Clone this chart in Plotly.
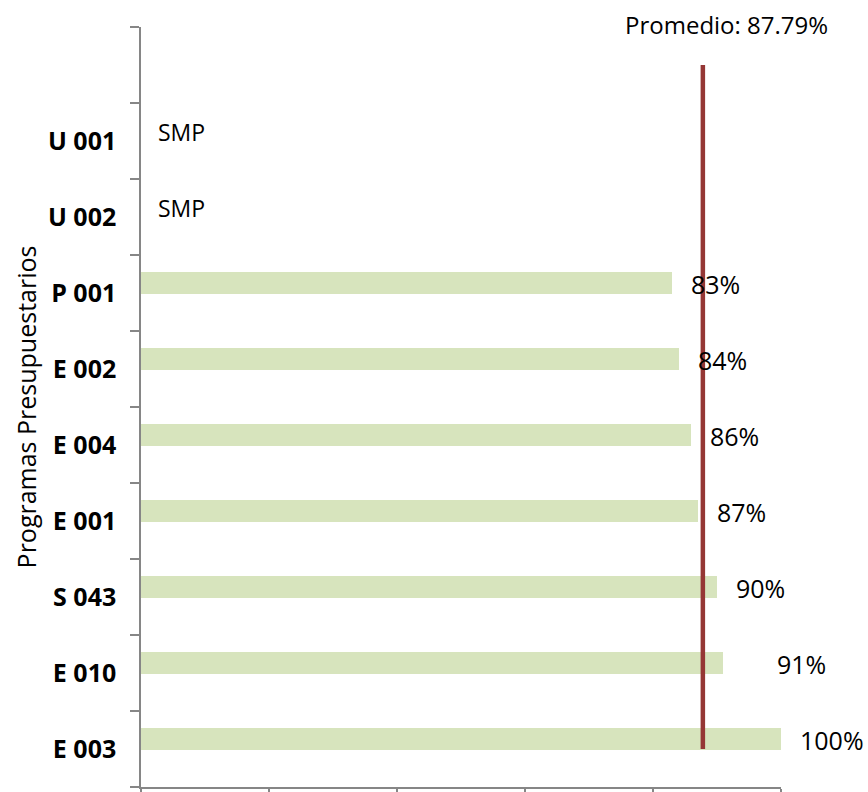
import plotly.graph_objects as go

# Data (bottom to top)
programs = ["E 003", "E 010", "S 043", "E 001", "E 004", "E 002", "P 001", "U 002", "U 001"]
values = [100, 91, 90, 87, 86, 84, 83, None, None]
labels = ["100%", "91%", "90%", "87%", "86%", "84%", "83%", "SMP", "SMP"]
promedio = 87.79
promedio_label = "Promedio: 87.79%"
axis_title = "Programas Presupuestarios"
x_ticks = [0, 20, 40, 60, 80, 100]

top_blank = " "
categories = programs + [top_blank]

FONT = "Open Sans"
AXIS_COLOR = "#868686"
BAR_COLOR = "#D7E4BD"
LINE_COLOR = "#953735"

fig = go.Figure()

fig.add_trace(go.Bar(
    y=programs,
    x=values,
    orientation="h",
    marker=dict(color=BAR_COLOR, line=dict(width=0)),
    width=0.29,
    offset=-0.015,
    hoverinfo="skip",
    showlegend=False,
))

fig.add_trace(go.Scatter(
    x=[promedio, promedio],
    y=[programs[0], top_blank],
    mode="lines",
    line=dict(color=LINE_COLOR, width=4.5),
    hoverinfo="skip",
    showlegend=False,
))

extra_shift = {"E 010": 35}
for cat, v, lab in zip(programs, values, labels):
    fig.add_annotation(
        x=v if v is not None else 0,
        y=cat,
        text=lab,
        showarrow=False,
        xanchor="left",
        yanchor="middle",
        xshift=(17 if v is not None else 15) + extra_shift.get(cat, 0),
        yshift=9,
        font=dict(family=FONT, size=25 if v is not None else 23, color="#000000"),
    )

fig.add_annotation(
    x=promedio,
    y=top_blank,
    text=promedio_label,
    showarrow=False,
    xanchor="center",
    yanchor="middle",
    xshift=24,
    yshift=41,
    font=dict(family=FONT, size=24, color="#000000"),
)

fig.update_layout(
    width=868,
    height=792,
    margin=dict(l=141, r=87, t=27, b=5),
    paper_bgcolor="white",
    plot_bgcolor="white",
    font=dict(family=FONT, color="#000000"),
    bargap=0,
)

fig.update_xaxes(
    range=[0, 100],
    tickvals=x_ticks,
    showticklabels=False,
    ticks="outside",
    ticklen=6,
    tickwidth=1.5,
    tickcolor=AXIS_COLOR,
    showline=True,
    linecolor=AXIS_COLOR,
    linewidth=1.5,
    showgrid=False,
    zeroline=False,
    automargin=False,
)

fig.update_yaxes(
    type="category",
    categoryorder="array",
    categoryarray=categories,
    range=[-0.5, len(categories) - 0.5],
    tickson="boundaries",
    ticks="outside",
    ticklen=9,
    tickwidth=1.5,
    tickcolor=AXIS_COLOR,
    showline=True,
    linecolor=AXIS_COLOR,
    linewidth=1.5,
    showgrid=False,
    zeroline=False,
    automargin=False,
    ticklabelstandoff=18,
    tickfont=dict(family=FONT, size=25, color="#000000", weight="bold"),
    title=dict(text=axis_title, font=dict(family=FONT, size=25, color="#000000"), standoff=4),
)

fig.write_html(
    "out.html",
    config={"displayModeBar": False},
    post_script="document.body.style.margin='0';document.body.style.padding='0';",
)
